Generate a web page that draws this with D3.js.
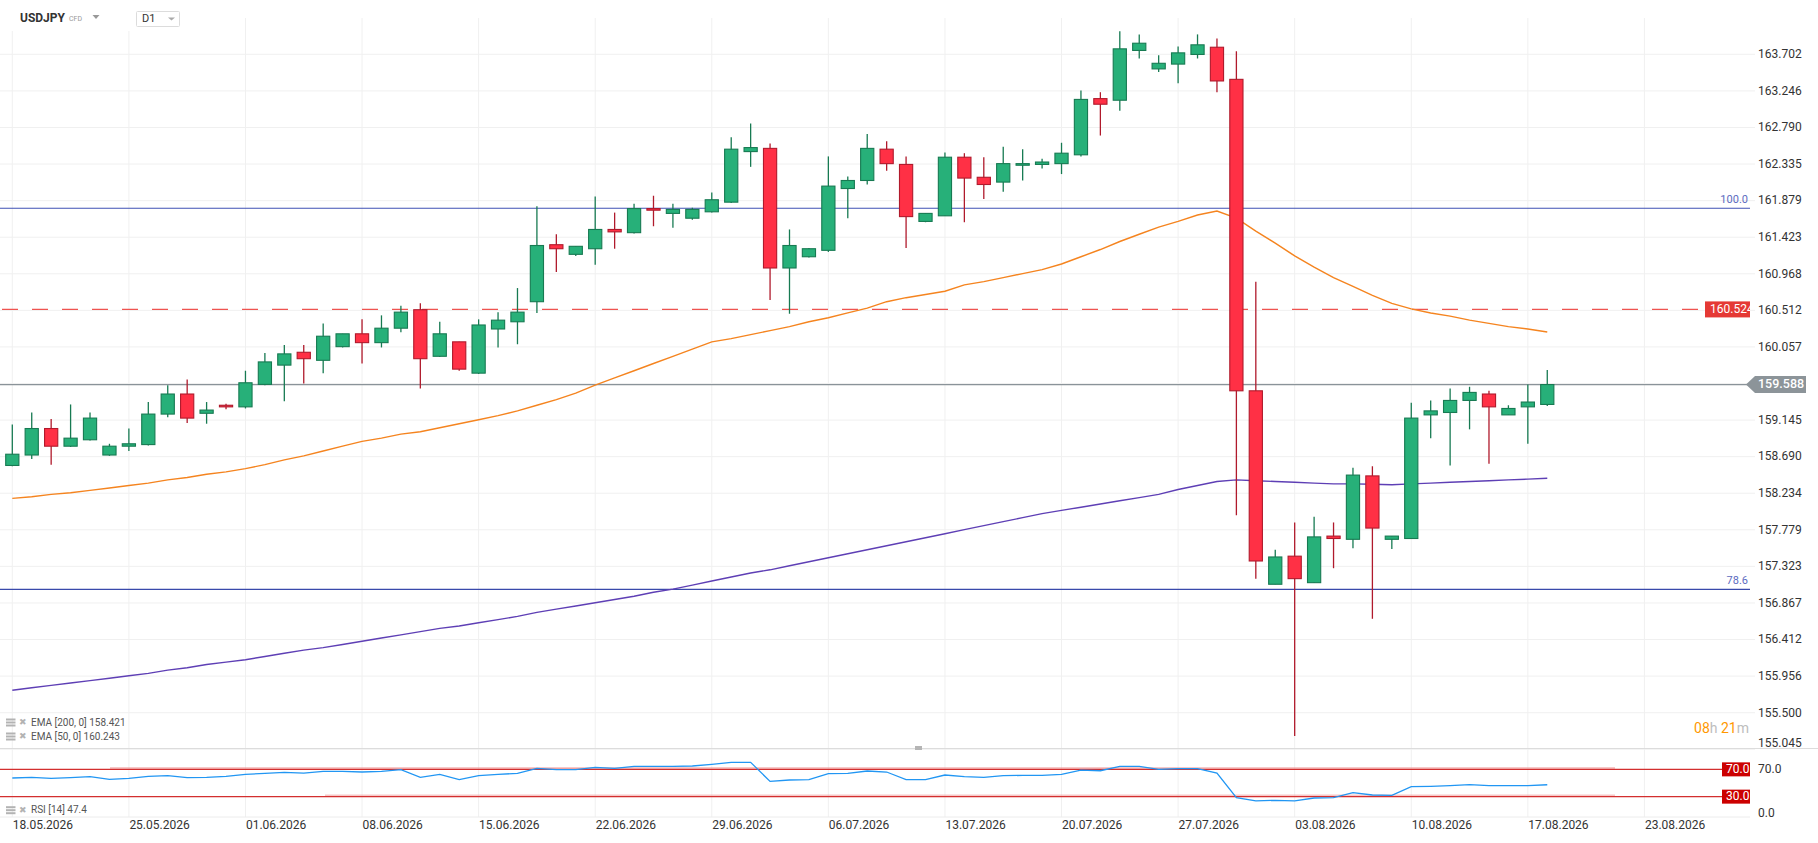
<!DOCTYPE html>
<html><head><meta charset="utf-8">
<script src="https://cdn.jsdelivr.net/npm/d3@7"></script>
<style>
html,body{margin:0;padding:0;background:#fff;overflow:hidden;}
svg{display:block;font-family:Roboto,"Noto Sans",sans-serif;}
</style></head><body>
<svg id="c" width="1818" height="843"></svg>
<script>
// ---------- DATA ----------
const open  = [158.58,158.71,159.04,158.82,158.90,158.71,158.82,158.84,159.22,159.47,
               159.23,159.33,159.31,159.59,159.83,159.99,159.89,160.06,160.22,160.11,
               160.29,160.52,159.94,160.12,159.73,160.28,160.37,160.62,161.33,161.21,
               161.28,161.52,161.48,161.78,161.72,161.66,161.74,161.86,162.49,162.53,
               161.04,161.18,161.26,162.03,162.13,162.52,162.33,161.62,161.69,162.42,
               162.17,162.11,162.32,162.33,162.34,162.45,163.15,163.13,163.75,163.52,
               163.58,163.70,163.79,163.39,159.51,157.10,157.45,157.12,157.70,157.66,
               158.45,157.66,157.67,159.21,159.24,159.39,159.47,159.21,159.31,159.34];
const high  = [159.09,159.24,159.16,159.34,159.24,158.85,159.04,159.37,159.58,159.65,
               159.37,159.35,159.76,159.98,160.08,160.08,160.35,160.22,160.40,160.45,
               160.57,160.60,160.37,160.12,160.40,160.49,160.79,161.81,161.46,161.31,
               161.93,161.73,161.84,161.94,161.84,161.79,161.98,162.67,162.84,162.59,
               161.52,161.29,162.43,162.18,162.71,162.62,162.43,161.72,162.48,162.47,
               162.42,162.55,162.52,162.40,162.60,163.25,163.23,163.99,163.95,163.69,
               163.80,163.95,163.90,163.74,160.87,157.53,157.87,157.94,157.87,158.55,
               158.57,157.70,159.36,159.39,159.54,159.56,159.51,159.33,159.59,159.77];
const low   = [158.57,158.66,158.59,158.81,158.89,158.70,158.76,158.83,159.18,159.11,
               159.10,159.28,159.29,159.58,159.38,159.60,159.73,160.05,159.85,160.05,
               160.24,159.54,159.93,159.76,159.72,160.05,160.09,160.48,160.99,161.19,
               161.08,161.28,161.47,161.56,161.54,161.64,161.73,161.85,162.30,160.64,
               160.47,161.17,161.24,161.66,162.08,162.25,161.29,161.61,161.69,161.61,
               161.90,161.99,162.13,162.28,162.21,162.43,162.69,163.00,163.65,163.48,
               163.34,163.65,163.23,157.96,157.17,157.10,155.21,157.12,157.30,157.55,
               156.67,157.54,157.67,158.92,158.58,159.03,158.60,159.21,158.85,159.32];
const close = [158.72,159.04,158.82,158.92,159.17,158.82,158.85,159.22,159.47,159.17,
               159.27,159.31,159.61,159.87,159.97,159.91,160.19,160.22,160.11,160.29,
               160.49,159.91,160.22,159.78,160.33,160.39,160.49,161.32,161.28,161.31,
               161.52,161.49,161.78,161.76,161.77,161.77,161.89,162.52,162.54,161.04,
               161.32,161.28,162.06,162.13,162.53,162.34,161.68,161.72,162.42,162.16,
               162.08,162.34,162.34,162.36,162.47,163.14,163.08,163.77,163.84,163.59,
               163.72,163.82,163.37,159.51,157.39,157.44,157.17,157.69,157.67,158.46,
               157.80,157.70,159.17,159.26,159.39,159.49,159.31,159.29,159.37,159.588];
const ema50 = [158.17,158.19,158.22,158.24,158.27,158.30,158.33,158.36,158.40,158.43,
               158.47,158.50,158.54,158.59,158.65,158.70,158.76,158.82,158.88,158.92,
               158.97,159.00,159.05,159.10,159.15,159.20,159.26,159.33,159.40,159.48,
               159.58,159.67,159.76,159.85,159.94,160.03,160.12,160.16,160.21,160.26,
               160.31,160.37,160.42,160.48,160.54,160.62,160.67,160.71,160.75,160.83,
               160.87,160.92,160.97,161.02,161.09,161.18,161.27,161.37,161.46,161.55,
               161.62,161.70,161.75,161.66,161.50,161.35,161.19,161.05,160.92,160.81,
               160.70,160.60,160.53,160.48,160.44,160.39,160.35,160.31,160.28,160.243];
const ema200 = [155.78,155.81,155.84,155.87,155.90,155.93,155.96,155.99,156.03,156.06,
                156.10,156.13,156.16,156.20,156.24,156.28,156.31,156.35,156.39,156.43,
                156.47,156.51,156.55,156.58,156.62,156.66,156.70,156.75,156.79,156.83,
                156.87,156.91,156.95,157.00,157.04,157.09,157.14,157.19,157.24,157.28,
                157.33,157.38,157.43,157.48,157.53,157.58,157.63,157.68,157.73,157.78,
                157.83,157.88,157.93,157.98,158.02,158.06,158.10,158.14,158.18,158.22,
                158.28,158.33,158.38,158.40,158.39,158.38,158.37,158.36,158.35,158.35,
                158.345,158.34,158.35,158.36,158.37,158.38,158.39,158.40,158.41,158.421];
const rsi = [57.3,58.3,56.8,57.8,59.3,55.4,56.8,59.8,60.7,57.8,
             58.3,59.8,62.7,64.1,65.6,64.6,67.1,67.1,66.1,67.1,
             69.5,58.3,62.7,54.9,60.7,62.7,64.1,71.5,69.5,69.5,
             72.9,71.5,74.4,74.4,74.4,74.9,77.3,80.2,80.2,52.4,
             54.4,54.9,63.7,64.1,67.6,66.1,54.9,54.9,61.7,59.3,
             58.3,60.7,61.2,61.2,62.7,69.0,68.0,74.4,74.4,70.0,
             71.0,71.0,64.6,28.5,23.7,24.6,23.7,28.0,28.5,35.9,
             32.4,32.0,44.6,45.1,46.1,47.6,46.1,46.1,46.1,47.4];
const priceTicks = [163.702,163.246,162.790,162.335,161.879,161.423,160.968,160.512,160.057,159.601,
                    159.145,158.690,158.234,157.779,157.323,156.867,156.412,155.956,155.500,155.045];
const dateLabels = ["18.05.2026","25.05.2026","01.06.2026","08.06.2026","15.06.2026","22.06.2026",
                    "29.06.2026","06.07.2026","13.07.2026","20.07.2026","27.07.2026","03.08.2026",
                    "10.08.2026","17.08.2026","23.08.2026"];
const slotsPerWeek = 6;
const fibLevels = [{label:"100.0", value:161.784, color:"#3f51b5"},{label:"78.6", value:157.037, color:"#3949ab"}];
const lastPrice = 159.588;
const alertPrice = 160.524;
const rsiLevels = [70, 30];
const rsiHighlightStart = [110, 325];
const rsiTicks = [70, 0];
const legendRows = ["EMA [200, 0] 158.421","EMA [50, 0] 160.243"];
const rsiLegend = "RSI [14] 47.4";

// ---------- LAYOUT ----------
const W = 1818, plotR = 1750, mainTop = 18, mainBot = 748;
const svg = d3.select("#c");
const x = d3.scaleLinear().domain([0, 84]).range([12.3, 12.3 + 19.43*84]);
const y = d3.scaleLinear().domain([155.5, 163.702]).range([712.7, 54.3]);
const yR = d3.scaleLinear().domain([0, 100]).range([817.1, 748.9]);
const gridC = "#f0f0f0";

svg.append("rect").attr("width", W).attr("height", 843).attr("fill", "#fff");

const defs = svg.append("defs");
defs.append("clipPath").attr("id","mainClip").append("rect")
  .attr("x",0).attr("y",mainTop).attr("width",plotR).attr("height",mainBot-mainTop);
defs.append("clipPath").attr("id","boxClip").append("rect")
  .attr("x",1700).attr("y",295).attr("width",50).attr("height",30);

// horizontal grid
svg.append("g").selectAll("line").data(priceTicks).join("line")
  .attr("x1",0).attr("x2",1755).attr("y1",d=>y(d)).attr("y2",d=>y(d))
  .attr("stroke",gridC).attr("stroke-width",1);
// vertical grid
const weekSlots = dateLabels.map((d,i)=>i*slotsPerWeek);
svg.append("g").selectAll("line").data(weekSlots).join("line")
  .attr("x1",d=>x(d)).attr("x2",d=>x(d)).attr("y1",mainTop).attr("y2",817)
  .attr("stroke",gridC).attr("stroke-width",1);

// header mask
svg.append("rect").attr("x",0).attr("y",0).attr("width",200).attr("height",31).attr("fill","#fff");

// panel separators
svg.append("line").attr("x1",0).attr("x2",W).attr("y1",748.5).attr("y2",748.5).attr("stroke","#dcdcdc");
svg.append("line").attr("x1",0).attr("x2",plotR).attr("y1",817).attr("y2",817).attr("stroke","#ececec");
svg.append("rect").attr("x",915).attr("y",746).attr("width",7).attr("height",4).attr("fill","#b5b5b5");

const main = svg.append("g").attr("clip-path","url(#mainClip)");

fibLevels.forEach(f=>{
  main.append("line").attr("x1",0).attr("x2",plotR).attr("y1",y(f.value)).attr("y2",y(f.value))
    .attr("stroke",f.color).attr("stroke-width",1.2);
});
main.append("line").attr("x1",2).attr("x2",1705).attr("y1",y(alertPrice)).attr("y2",y(alertPrice))
  .attr("stroke","#ef5350").attr("stroke-width",1.4).attr("stroke-dasharray","16,14");
main.append("line").attr("x1",0).attr("x2",1748).attr("y1",y(lastPrice)).attr("y2",y(lastPrice))
  .attr("stroke","#8a9399").attr("stroke-width",1.2);

const lineGen = d3.line().x((d,i)=>x(i)).y(d=>y(d));
main.append("path").datum(ema200).attr("d",lineGen).attr("fill","none")
  .attr("stroke","#5e3fb5").attr("stroke-width",1.4);
main.append("path").datum(ema50).attr("d",lineGen).attr("fill","none")
  .attr("stroke","#f5841f").attr("stroke-width",1.4);

const candles = open.map((o,i)=>({i,o,h:high[i],l:low[i],c:close[i]}));
const up = {fill:"#27b079", stroke:"#177a52"};
const dn = {fill:"#ff3045", stroke:"#b01a2c"};
const cg = main.append("g");
cg.selectAll("line").data(candles).join("line")
  .attr("x1",d=>x(d.i)).attr("x2",d=>x(d.i)).attr("y1",d=>y(d.h)).attr("y2",d=>y(d.l))
  .attr("stroke",d=>d.c>=d.o?up.stroke:dn.stroke).attr("stroke-width",1.3);
cg.selectAll("rect").data(candles).join("rect")
  .attr("x",d=>x(d.i)-6.6).attr("width",13.2)
  .attr("y",d=>y(Math.max(d.o,d.c)))
  .attr("height",d=>Math.max(1.5, Math.abs(y(d.o)-y(d.c))))
  .attr("fill",d=>d.c>=d.o?up.fill:dn.fill)
  .attr("stroke",d=>d.c>=d.o?up.stroke:dn.stroke).attr("stroke-width",1.1);

fibLevels.forEach(f=>{
  svg.append("text").attr("x",1748).attr("y",y(f.value)-8).attr("text-anchor","end")
    .attr("font-size",11).attr("fill","#5c6bc0").attr("dominant-baseline","middle").text(f.label);
});

const ax = svg.append("g").attr("transform",`translate(${plotR},0)`)
  .call(d3.axisRight(y).tickValues(priceTicks).tickFormat(d3.format(".3f")).tickSize(0).tickPadding(8));
ax.select(".domain").remove();
ax.selectAll("text").attr("font-size",12).attr("fill","#333").attr("font-family","Roboto, sans-serif");
ax.selectAll(".tick").attr("transform",d=>`translate(0,${Math.min(y(d),743)})`);

svg.append("rect").attr("x",1705).attr("y",y(alertPrice)-8).attr("width",45).attr("height",16).attr("fill","#e53935");
svg.append("text").attr("clip-path","url(#boxClip)").attr("x",1710).attr("y",y(alertPrice))
  .attr("dominant-baseline","middle").attr("font-size",12).attr("fill","#fff").text(alertPrice.toFixed(3));

const ly = y(lastPrice);
svg.append("path").attr("d",`M1746,${ly} L1755,${ly-8.5} L1806,${ly-8.5} L1806,${ly+8.5} L1755,${ly+8.5} Z`)
  .attr("fill","#8c9499");
svg.append("text").attr("x",1758).attr("y",ly).attr("dominant-baseline","middle")
  .attr("font-size",12.5).attr("font-weight",500).attr("fill","#fff").text(lastPrice.toFixed(3));

const cd = svg.append("text").attr("x",1749).attr("y",729).attr("text-anchor","end")
  .attr("dominant-baseline","middle").attr("font-size",14);
cd.append("tspan").attr("fill","#ff9800").text("08");
cd.append("tspan").attr("fill","#bdbdbd").text("h ");
cd.append("tspan").attr("fill","#ff9800").text("21");
cd.append("tspan").attr("fill","#bdbdbd").text("m");

// RSI panel
rsiLevels.forEach((v,k)=>{
  svg.append("line").attr("x1",rsiHighlightStart[k]).attr("x2",1615).attr("y1",yR(v)-1).attr("y2",yR(v)-1)
    .attr("stroke","#f19a9a").attr("stroke-opacity",0.55).attr("stroke-width",2.5);
  svg.append("line").attr("x1",0).attr("x2",plotR).attr("y1",yR(v)).attr("y2",yR(v))
    .attr("stroke","#d32f2f").attr("stroke-width",1.3);
  svg.append("rect").attr("x",1722).attr("y",yR(v)-7).attr("width",28).attr("height",14).attr("fill","#cc0000");
  svg.append("text").attr("x",1726).attr("y",yR(v)).attr("dominant-baseline","middle")
    .attr("font-size",12).attr("fill","#fff").text(v.toFixed(1));
});
const rsiLine = d3.line().x((d,i)=>x(i)).y(d=>yR(d));
svg.append("path").datum(rsi).attr("d",rsiLine).attr("fill","none")
  .attr("stroke","#2196f3").attr("stroke-width",1.3);
const rax = svg.append("g").attr("transform",`translate(${plotR},0)`)
  .call(d3.axisRight(yR).tickValues(rsiTicks).tickFormat(d3.format(".1f")).tickSize(0).tickPadding(8));
rax.select(".domain").remove();
rax.selectAll("text").attr("font-size",12).attr("fill","#333").attr("font-family","Roboto, sans-serif");
rax.selectAll(".tick").attr("transform",d=>`translate(0,${Math.min(yR(d),812.7)})`);

svg.append("g").selectAll("text").data(dateLabels).join("text")
  .attr("x",(d,i)=>x(i*slotsPerWeek)+0.5).attr("y",826).attr("dominant-baseline","middle")
  .attr("font-size",12).attr("fill","#333").text(d=>d);

function legendRow(ty, label){
  const g = svg.append("g");
  [-3.5,-0.5,2.5].forEach(o=>g.append("rect").attr("x",6).attr("y",ty+o-1).attr("width",9.5).attr("height",2).attr("fill","#b3b3b3"));
  g.append("text").attr("x",19).attr("y",ty).attr("dominant-baseline","middle").attr("font-size",9).attr("fill","#b3b3b3").text("✖");
  g.append("text").attr("x",31).attr("y",ty).attr("dominant-baseline","middle").attr("font-size",10).attr("fill","#555").text(label);
}
legendRow(723, legendRows[0]);
legendRow(737, legendRows[1]);
legendRow(810.7, rsiLegend);

svg.append("text").attr("x",20).attr("y",18.5).attr("dominant-baseline","middle").attr("font-size",12)
  .attr("font-weight","bold").attr("fill","#333").text("USDJPY");
svg.append("text").attr("x",69).attr("y",19).attr("dominant-baseline","middle").attr("font-size",7)
  .attr("fill","#999").text("CFD");
svg.append("path").attr("d","M92.5,15 L99.5,15 L96,19 Z").attr("fill","#999");
svg.append("rect").attr("x",136.5).attr("y",11.5).attr("width",43).attr("height",15).attr("rx",1)
  .attr("fill","#fff").attr("stroke","#dcdcdc");
svg.append("text").attr("x",142).attr("y",19.5).attr("dominant-baseline","middle").attr("font-size",11)
  .attr("fill","#333").text("D1");
svg.append("path").attr("d","M168,17.5 L175,17.5 L171.5,20.5 Z").attr("fill","#aaa");
</script>
</body></html>
